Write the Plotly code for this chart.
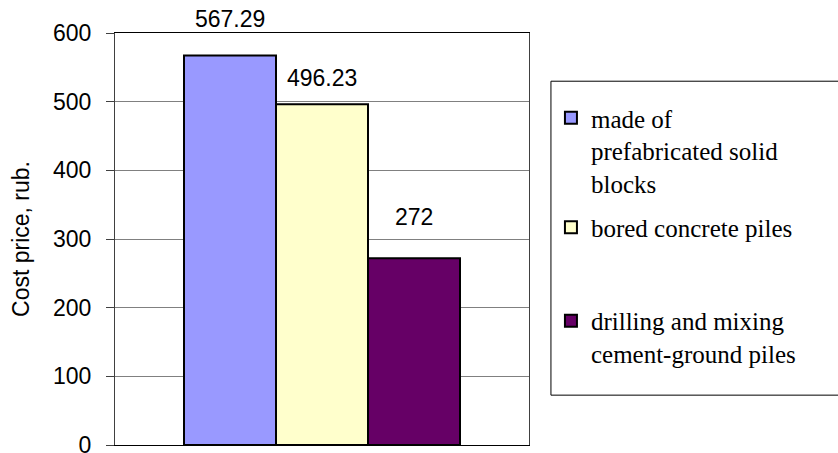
import plotly.graph_objects as go

# ---- data ----
series_names = [
    "made of<br>prefabricated solid<br>blocks",
    "bored concrete piles",
    "drilling and mixing<br>cement-ground piles",
]
values = [567.29, 496.23, 272]
value_labels = ["567.29", "496.23", "272"]
y_ticks = [0, 100, 200, 300, 400, 500, 600]

# ---- style ----
colors = ["#9999FF", "#FFFFCC", "#660066"]
label_yshift = [36, 26, 41]
legend_ids = ["legend", "legend", "legend2"]

SANS = "Liberation Sans, Arial, sans-serif"
SERIF = "Liberation Serif, Times New Roman, serif"

fig = go.Figure()
for i, (name, v, c) in enumerate(zip(series_names, values, colors)):
    fig.add_trace(go.Bar(
        x=[i], y=[v], name=name, width=1,
        marker=dict(color=c, line=dict(color="black", width=2)),
        legendgroup=f"g{i}", legend=legend_ids[i],
        hoverinfo="y",
    ))
    fig.add_annotation(
        x=i, y=v, text=value_labels[i], showarrow=False,
        xref="x", yref="y", yanchor="middle", yshift=label_yshift[i],
        font=dict(family=SANS, size=23, color="black"),
    )

legend_style = dict(
    xanchor="left", yanchor="top", borderwidth=0, bgcolor="rgba(0,0,0,0)",
    font=dict(family=SERIF, size=25, color="black"),
    valign="top", tracegroupgap=9,
)

fig.update_layout(
    width=838, height=453,
    margin=dict(l=115, r=309, t=33, b=8, autoexpand=False),
    paper_bgcolor="white", plot_bgcolor="white",
    barmode="overlay",
    showlegend=True,
    legend=dict(x=1.053, y=0.8495, **legend_style),
    legend2=dict(x=1.053, y=0.3568, **legend_style),
    font=dict(family=SANS, size=23, color="black"),
    shapes=[dict(type="rect", xref="paper", yref="paper",
                 x0=1.053, x1=2.0, y0=0.121, y1=0.883,
                 line=dict(color="black", width=1), fillcolor="rgba(0,0,0,0)",
                 layer="below")],
)
fig.update_xaxes(
    range=[-1.25, 3.25], showticklabels=False, ticks="", showgrid=False,
    zeroline=False, showline=True, linecolor="black", linewidth=1, mirror=True,
    automargin=False,
)
fig.update_yaxes(
    range=[0, 600], tickvals=y_ticks, ticks="outside", ticklen=8, tickcolor="#404040",
    showgrid=True, gridcolor="#808080", gridwidth=1, zeroline=False,
    showline=True, linecolor="#404040", linewidth=1, mirror=True,
    tickfont=dict(family=SANS, size=23, color="black"),
    ticklabelstandoff=10, ticklabeloverflow="allow", automargin=False,
    title=dict(text="Cost price, rub.", standoff=16,
               font=dict(family=SANS, size=23, color="black")),
)

fig.write_html("out.html", config={"displayModeBar": False},
               post_script="document.body.style.margin='0px';document.body.style.padding='0px';")
